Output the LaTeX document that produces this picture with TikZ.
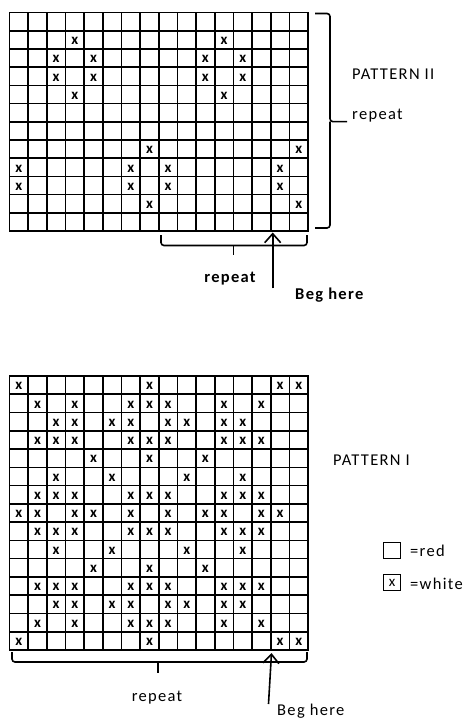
\documentclass[tikz,border=0pt]{standalone}
\usepackage{fontspec}
\setmainfont{Carlito}[LetterSpace=8]
\newfontfamily\xfont{Carlito}
\usetikzlibrary{arrows.meta}
\begin{document}
\begin{tikzpicture}[x=1pt,y=-1pt,
  gridline/.style={line width=1.6pt,line cap=rect},
  xmark/.style={font=\xfont\bfseries\fontsize{15}{15}\selectfont,inner sep=0pt},
  lbl/.style={font=\fontsize{16.5}{16.5}\selectfont,inner sep=0pt,anchor=base west},
  lblc/.style={font=\fontsize{16.5}{16.5}\selectfont,inner sep=0pt,anchor=base},
  brace/.style={line width=1.6pt,rounded corners=3pt},
  arr/.style={line width=1.6pt,-{Straight Barb[length=9pt,width=16pt,line width=1.6pt]}},
  legbox/.style={draw,line width=1.6pt,minimum width=17pt,minimum height=16pt,inner sep=0pt,
     font=\xfont\fontsize{15}{15}\selectfont}]
\useasboundingbox (0,0) rectangle (474,719);

% ---------- Pattern II grid (16 x 12) ----------
\foreach \i in {0,...,16}
  \draw[gridline] ({9.5+\i*18.66},12.7) -- ({9.5+\i*18.66},231.1);
\foreach \j in {0,...,12}
  \draw[gridline] (9.5,{12.7+\j*18.2}) -- (308.1,{12.7+\j*18.2});
\foreach \r/\c in {2/4,2/12,3/3,3/5,3/11,3/13,4/3,4/5,4/11,4/13,5/4,5/12,
                   8/8,8/16,9/1,9/7,9/9,9/15,10/1,10/7,10/9,10/15,11/8,11/16}
  \node[xmark] (pb-\r-\c) at ({9.5+(\c-0.5)*18.66},{13.7+(\r-0.5)*18.2}) {x};

% right brace and labels of pattern II
\draw[brace] (315,13.5) -- (330,13.5) -- (330,121.7) -- (347,121.7);
\draw[brace] (315,228) -- (330,228) -- (330,121.7);
\node[lbl] (p2title) at (352,79.3) {PATTERN II};
\node[lbl] (p2rep) at (352,119.5) {repeat};

% bottom brace of pattern II
\draw[brace] (161,235) -- (161,245.5) -- (307,245.5) -- (307,235);
\draw[brace] (233.3,245.5) -- (233.3,255);
\node[lblc,font=\fontsize{16.5}{16.5}\selectfont\bfseries] (p2rep2) at (230,282.7) {repeat};
\node[lbl,font=\fontsize{16.5}{16.5}\selectfont\bfseries] (p2beg) at (295,299.3) {Beg here};
\coordinate (a2s) at (272.7,288.3);
\coordinate (a2e) at (272.7,232.5);
\draw[arr] (a2s) -- (a2e);

% ---------- Pattern I grid (16 x 15) ----------
\foreach \i in {0,...,16}
  \draw[gridline] ({9.5+\i*18.66},376) -- ({9.5+\i*18.66},650);
\foreach \j in {0,...,15}
  \draw[gridline] (9.5,{376+\j*18.267}) -- (308.1,{376+\j*18.267});
\foreach \r/\cols in {1/{1,8,15,16},2/{2,4,7,8,9,12,14},3/{3,4,6,7,9,10,12,13},
    4/{2,3,4,7,8,9,12,13,14},5/{5,8,11},6/{3,6,10,13},7/{2,3,4,7,8,9,12,13,14},
    8/{1,2,4,5,7,9,11,12,14,15},9/{2,3,4,7,8,9,12,13,14},10/{3,6,10,13},11/{5,8,11},
    12/{2,3,4,7,8,9,12,13,14},13/{3,4,6,7,9,10,12,13},14/{2,4,7,8,9,12,14},15/{1,8,15,16}}
  \foreach \c in \cols
    \node[xmark] (pa-\r-\c) at ({9.5+(\c-0.5)*18.66},{377+(\r-0.5)*18.267}) {x};

\node[lbl] (p1title) at (333,465) {PATTERN I};

% legend
\node[legbox] (redbox) at (392,550.5) {};
\node[lbl] (redlbl) at (410,556.5) {=red};
\node[legbox] (whitebox) at (392,582.5) {x};
\node[lbl] (whitelbl) at (410,589) {=white};

% bottom brace of pattern I
\draw[brace] (12,652) -- (12,662) -- (307,662) -- (307,652);
\draw[brace] (158,662) -- (158,673);
\node[lblc] (p1rep) at (157,701.7) {repeat};
\node[lbl] (p1beg) at (277,715) {Beg here};
\coordinate (a1s) at (268.5,704);
\coordinate (a1e) at (271.5,653);
\draw[arr] (a1s) -- (a1e);
\end{tikzpicture}
\end{document}
